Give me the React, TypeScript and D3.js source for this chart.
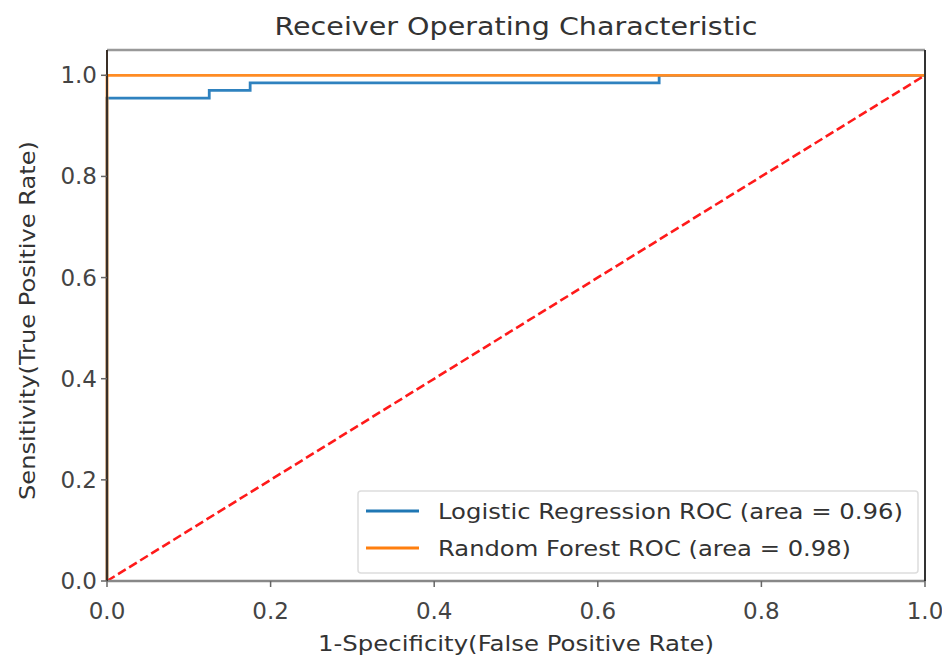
import * as d3 from 'd3'
import React from 'react'

// ROC curve points
const lrFpr = [0, 0, 0.125, 0.125, 0.175, 0.175, 0.675, 0.675, 1]
const lrTpr = [0, 0.955, 0.955, 0.97, 0.97, 0.985, 0.985, 1, 1]
const rfFpr = [0, 0, 1]
const rfTpr = [0, 1, 1]
const diag = [0, 1]
const ticks = [0, 0.2, 0.4, 0.6, 0.8, 1.0]
const legendLabels = ['Logistic Regression ROC (area = 0.96)', 'Random Forest ROC (area = 0.98)']
const legendColors = ['#1f77b4', '#ff7f0e']

const W = 942
const H = 658
const margin = { top: 50, right: 17, bottom: 77, left: 107 }
const font = 'DejaVu Sans, sans-serif'

const App = () => {
    const x = d3.scaleLinear().domain([0, 1]).range([margin.left, W - margin.right])
    const y = d3.scaleLinear().domain([0, 1.05]).range([H - margin.bottom, margin.top])

    const line = d3.line<[number, number]>()
        .x(d => x(d[0]))
        .y(d => y(d[1]))
        .curve(d3.curveLinear)

    const lrPath = line(lrFpr.map((f, i) => [f, lrTpr[i]]) as [number, number][])
    const rfPath = line(rfFpr.map((f, i) => [f, rfTpr[i]]) as [number, number][])
    const diagPath = line(diag.map(d => [d, d]) as [number, number][])

    const x0 = x(0), x1 = x(1), yTop = margin.top, yBot = H - margin.bottom

    return (
        <svg width={W} height={H} style={{ position: 'absolute', left: 0, top: 0, background: '#fff' }}>
            <text x={(x0 + x1) / 2} y={35} textAnchor="middle" fontFamily={font} fontSize={25}
                fill="#333" textLength={483} lengthAdjust="spacingAndGlyphs">
                Receiver Operating Characteristic
            </text>

            <path d={lrPath!} fill="none" stroke="#2f82bf" strokeWidth={2.8} />
            <path d={rfPath!} fill="none" stroke="#ff8c24" strokeWidth={2.8} />
            <path d={diagPath!} fill="none" stroke="#ff1a1a" strokeWidth={2.6} strokeDasharray="9,4" />

            {/* spines */}
            <line x1={x0} x2={x1} y1={yTop} y2={yTop} stroke="#999" strokeWidth={2.5} />
            <line x1={x0} x2={x1} y1={yBot} y2={yBot} stroke="#888" strokeWidth={2.5} />
            <line x1={x0} x2={x0} y1={yTop} y2={yBot} stroke="#3a3028" strokeWidth={2} />
            <line x1={x1} x2={x1} y1={yTop} y2={yBot} stroke="#333" strokeWidth={2} />

            {ticks.map(t => (
                <g key={'x' + t}>
                    <line x1={x(t)} x2={x(t)} y1={yBot} y2={yBot + 6} stroke="#666" strokeWidth={1.5} />
                    <text x={x(t)} y={619} textAnchor="middle" fontFamily={font} fontSize={23} fill="#444">
                        {t.toFixed(1)}
                    </text>
                </g>
            ))}
            {ticks.map(t => (
                <g key={'y' + t}>
                    <line x1={x0 - 6} x2={x0} y1={y(t)} y2={y(t)} stroke="#666" strokeWidth={1.5} />
                    <text x={97} y={y(t) + 8} textAnchor="end" fontFamily={font} fontSize={23} fill="#444">
                        {t.toFixed(1)}
                    </text>
                </g>
            ))}

            <text x={(x0 + x1) / 2} y={651} textAnchor="middle" fontFamily={font} fontSize={21}
                fill="#333" textLength={396} lengthAdjust="spacingAndGlyphs">
                1-Specificity(False Positive Rate)
            </text>
            <text transform={`translate(35,${(yTop + yBot) / 2 + 5}) rotate(-90)`} textAnchor="middle"
                fontFamily={font} fontSize={22} fill="#333" textLength={359} lengthAdjust="spacingAndGlyphs">
                Sensitivity(True Positive Rate)
            </text>

            {/* legend */}
            <rect x={358} y={491} width={560} height={82} rx={3} fill="#fff" fillOpacity={0.8}
                stroke="#ddd" strokeWidth={1.5} />
            {legendLabels.map((lab, i) => (
                <g key={lab}>
                    <line x1={366} x2={419} y1={511 + i * 37} y2={511 + i * 37}
                        stroke={legendColors[i]} strokeWidth={2.8} />
                    <text x={438} y={519 + i * 37} fontFamily={font} fontSize={22} fill="#333"
                        textLength={i === 0 ? 465 : 413} lengthAdjust="spacingAndGlyphs">
                        {lab}
                    </text>
                </g>
            ))}
        </svg>
    )
}

export default App
